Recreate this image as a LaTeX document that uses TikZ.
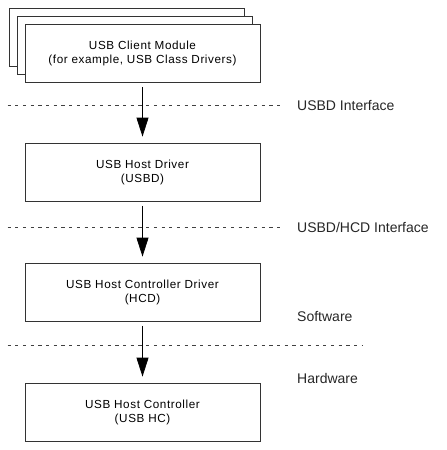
\documentclass[tikz,border=0pt]{standalone}
\usepackage{fontspec}
\setmainfont{Liberation Sans}
\newfontfamily\layerfont[LetterSpace=5]{Liberation Sans}
\usetikzlibrary{arrows.meta}
\tikzset{
  layer/.style={draw=black!80, line width=0.8pt, fill=white, minimum width=235pt, minimum height=58pt, inner sep=0pt, align=center, font=\layerfont\fontsize{11.7}{14}\selectfont},
  bound/.style={dash pattern=on 3.2pt off 4.5pt, line width=0.7pt, black!75},
  call/.style={-{Triangle[width=12pt,length=19pt]}, line width=0.8pt, shorten <=4pt, shorten >=6.5pt},
  side/.style={anchor=west, inner sep=0pt, font=\fontsize{14}{16}\selectfont, black!85}
}
\begin{document}
\begin{tikzpicture}[x=1pt,y=-1pt]
\useasboundingbox (0,0) rectangle (447,450);
	% client modules, stacked
	\node[layer] (client3) at (127.25,37) {};
	\node[layer] (client2) at (134.5,45) {};
	\node[layer] (client) at (142.5,53.5) {USB Client Module\\(for example, USB Class Drivers)};
	\node[layer] (usbd) at (142.5,172.5) {USB Host Driver\\(USBD)};
	\node[layer] (hcd) at (142.5,292.5) {USB Host Controller Driver\\(HCD)};
	\node[layer] (hc) at (142.5,412.5) {USB Host Controller\\(USB HC)};

	% interfaces
	\coordinate (usbdif) at (7.5,105.5);
	\coordinate (usbdifend) at (282,105.5);
	\coordinate (hcdif) at (7.5,227);
	\coordinate (hcdifend) at (282,227);
	\coordinate (hwif) at (7.5,345);
	\coordinate (hwifend) at (363,345);
	\draw[bound] (usbdif) -- (usbdifend);
	\draw[bound] (hcdif) -- (hcdifend);
	\draw[bound] (hwif) -- (hwifend);

	\draw[call] (client) -- (usbd);
	\draw[call] (usbd) -- (hcd);
	\draw[call] (hcd) -- (hc);

	\node[side] (usbdlabel) at (297,105.5) {USBD Interface};
	\node[side] (hcdlabel) at (297,227) {USBD/HCD Interface};
	\node[side] (swlabel) at (297,316) {Software};
	\node[side] (hwlabel) at (297,378) {Hardware};
\end{tikzpicture}
\end{document}
